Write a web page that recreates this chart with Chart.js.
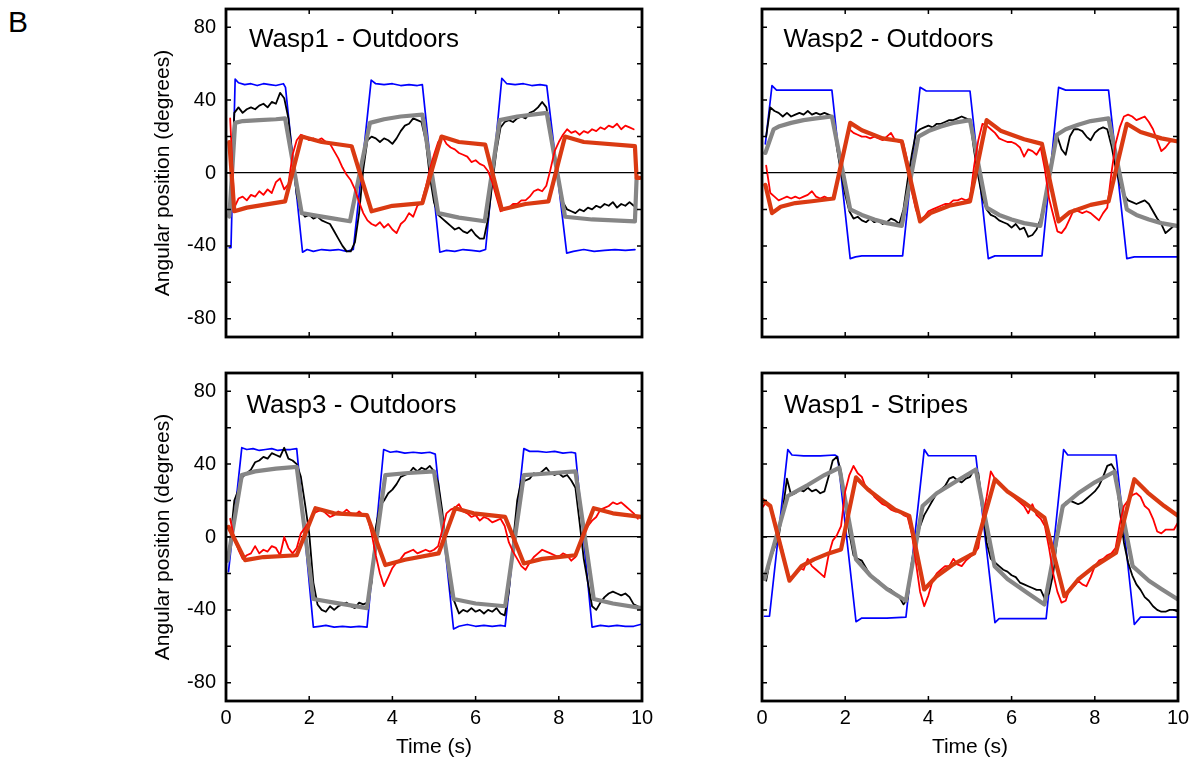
<!DOCTYPE html>
<html>
<head>
<meta charset="utf-8">
<script src="https://cdn.jsdelivr.net/npm/chart.js@4.4.0/dist/chart.umd.min.js"></script>
<style>
  body{margin:0;background:#fff;width:1195px;height:762px;position:relative;overflow:hidden;font-family:"Liberation Sans",Arial,sans-serif}
  canvas{position:absolute}
  #lblB{position:absolute;left:8px;top:7px;font-size:30px;line-height:30px;color:#000}
</style>
</head>
<body>
<div id="lblB">B</div>
<canvas id="c1" width="540" height="350" style="left:120px;top:0px"></canvas>
<canvas id="c2" width="495" height="350" style="left:700px;top:0px"></canvas>
<canvas id="c3" width="540" height="402" style="left:120px;top:360px"></canvas>
<canvas id="c4" width="495" height="402" style="left:700px;top:360px"></canvas>
<script>
// axis ticks
const xLabelTicks = [0, 2, 4, 6, 8, 10];
const yLabelTicks = [-80, -40, 0, 40, 80];
const xMinorTicks = [2, 4, 6, 8];
const yMinorTicks = [-80, -60, -40, -20, 0, 20, 40, 60, 80];

// ---- Wasp1 - Outdoors ----
// stimulus and fits as [time, deg] breakpoints, noisy traces sampled every 0.1 s
const w1Blue = [[0.08,-41],[0.12,-41],[0.22,51.5],[0.3,49.5],[0.45,48.5],[0.6,49],[0.75,48],[0.9,49],[1.05,48.5],[1.2,48],[1.38,49],[1.43,47],[1.84,-43.5],[1.95,-42],[2.1,-43],[2.3,-42],[2.5,-42.5],[2.7,-42],[2.9,-43],[3.06,-42],[3.49,51],[3.6,49],[3.8,48.5],[4.0,49],[4.2,48],[4.4,48.5],[4.6,48],[4.72,48.5],[5.14,-43.5],[5.3,-42.5],[5.5,-43],[5.7,-42],[5.9,-42.5],[6.1,-43],[6.24,-42],[6.63,52],[6.75,49],[6.95,48.5],[7.15,49],[7.35,48],[7.55,48.5],[7.71,48],[8.19,-44],[8.35,-43],[8.6,-42],[8.85,-43],[9.1,-42.5],[9.35,-42],[9.6,-42.5],[9.83,-42]];
const w1Gray = [[0.08,-24],[0.22,27.5],[0.4,28.5],[0.8,29],[1.2,29.5],[1.42,30],[1.82,-22],[2.2,-23.5],[2.6,-25],[2.98,-26.5],[3.46,27.5],[3.8,29.5],[4.2,31],[4.72,32],[5.1,-22],[5.6,-24.5],[6.22,-26.5],[6.58,29],[7.0,31],[7.71,33],[8.15,-24],[8.8,-25.5],[9.83,-26.5],[9.87,-3]];
const w1RedFit = [[0.08,17],[0.2,-21],[0.5,-19],[0.9,-17.5],[1.42,-15.6],[1.82,20],[2.3,17],[3.02,14.7],[3.5,-21],[4.0,-18],[4.72,-16.5],[5.18,20],[5.6,17],[6.23,15.6],[6.63,-20],[7.2,-17],[7.75,-15.6],[8.15,20],[8.6,17],[9.83,14.7],[9.87,-2.7],[9.95,-2.7]];
const w1Black = [-15,33,36,33,35,36,35,37,38,36, 39,38,44,41,30,8,-12,-21,-24,-23, -25,-24,-26,-27,-28,-32,-36,-40,-43,-43, -38,-22,2,18,20,19,17,19,18,16, 19,23,26,27,30,29,28,18,-2,-16, -23,-25,-27,-29,-31,-30,-32,-33,-31,-34, -36,-36,-25,-6,12,25,28,29,28,30, 31,30,33,34,36,39,36,24,8,-4, -16,-20,-21,-22,-20,-21,-19,-20,-18,-19, -17,-18,-16,-19,-17,-18,-16,-18];
const w1Red = [30,-19,-14,-13,-15,-12,-13,-10,-12,-9, -11,-5,-3,-9,-6,10,18,21,20,18, 19,18,19,17,16,12,8,3,-1,-4, -9,-16,-22,-26,-28,-29,-27,-30,-28,-31, -33,-28,-26,-22,-24,-18,-16,-8,2,10, 17,20,16,14,13,11,10,9,6,7, 5,4,1,-5,-13,-21,-20,-19,-17,-17, -15,-15,-13,-10,-9,-10,-7,2,12,17, 21,24,22,23,21,23,22,24,23,25, 24,26,25,27,24,26,25,24];

// ---- Wasp2 - Outdoors ----
const w2Blue = [[0.08,16],[0.24,48],[0.35,45.5],[1.68,45.5],[2.12,-47],[2.25,-46],[2.4,-45.5],[3.38,-45.5],[3.8,47],[3.95,45],[5.0,45],[5.44,-47],[5.6,-45.5],[6.73,-45.5],[7.13,47],[7.3,45.5],[8.33,45.5],[8.77,-47],[8.95,-46],[9.97,-46]];
const w2Gray = [[0.08,11],[0.28,24],[0.4,25.5],[0.7,27.5],[1.0,29],[1.3,30],[1.68,31],[2.12,-20],[2.4,-23],[2.7,-25.5],[3.0,-27.5],[3.36,-29],[3.76,20],[4.0,23],[4.3,25.5],[4.6,27.5],[5.0,29],[5.4,-19],[5.7,-23],[6.0,-25.5],[6.3,-27.5],[6.69,-29],[7.09,21],[7.3,24],[7.6,26.5],[7.9,28.5],[8.33,30],[8.77,-20],[9.0,-23],[9.3,-25.5],[9.6,-27.5],[9.97,-29]];
const w2RedFit = [[0.08,-6.5],[0.24,-22],[0.45,-18.5],[0.8,-16.5],[1.2,-15.5],[1.72,-14],[2.12,27.5],[2.4,23.5],[2.9,19],[3.36,17.4],[3.8,-26.6],[4.05,-22],[4.5,-18],[5.0,-15.6],[5.4,29],[5.75,23],[6.3,18.5],[6.73,16],[7.13,-26.6],[7.4,-21.5],[7.9,-17.5],[8.33,-15.6],[8.77,27],[9.1,22.5],[9.6,19],[9.97,17.4]];
const w2Black = [20,36,34,33,31,33,31,32,33,32, 34,32,33,32,33,32,31,14,0,-12, -21,-25,-24,-26,-27,-25,-27,-26,-28,-27, -25,-26,-28,-20,-4,10,22,24,25,26, 25,27,27,28,29,29,30,31,30,29, 12,-2,-14,-20,-23,-24,-26,-27,-28,-30, -28,-31,-30,-35,-34,-31,-25,-15,0,12, 20,13,10,20,24,24,23,20,18,22, 24,25,24,15,3,-6,-12,-15,-16,-17, -16,-15,-17,-21,-25,-28,-33,-31,-29];
const w2Red = [4,-11,-13,-15,-14,-13,-14,-13,-14,-13, -12,-10,-13,-14,-13,-14,-14,-5,6,16, 24,22,21,20,20,19,20,19,18,20, 22,18,17,16,6,-10,-20,-26,-24,-21, -20,-19,-18,-17,-17,-15,-15,-14,-15,-14, 4,18,27,26,24,22,19,18,17,17, 16,14,9,13,12,10,14,2,-14,-23, -32,-33,-30,-25,-20,-21,-22,-21,-22,-24, -26,-22,-19,0,16,25,31,32,31,29, 30,31,28,24,18,12,14,17,18];

// ---- Wasp3 - Outdoors ----
const w3Blue = [[0.06,-19],[0.38,49],[0.5,48],[0.65,48.5],[0.8,47.5],[0.95,48],[1.1,48.5],[1.25,47.5],[1.4,48],[1.55,48],[1.7,48.5],[2.1,-49.5],[2.25,-49],[2.4,-48.5],[2.6,-49.5],[2.8,-49],[3.0,-49.5],[3.2,-49],[3.39,-49.5],[3.79,48],[3.95,46.5],[4.1,47],[4.3,46],[4.5,46.5],[4.7,46],[4.9,46.5],[5.03,45.5],[5.47,-50.5],[5.6,-49],[5.8,-48],[6.0,-49],[6.2,-48.5],[6.4,-49],[6.6,-48.5],[6.71,-49],[7.16,48.5],[7.3,47],[7.5,47],[7.7,46.5],[7.9,47],[8.1,46],[8.3,46.5],[8.4,46],[8.8,-49.5],[9.0,-48.5],[9.2,-49],[9.4,-48.5],[9.6,-49],[9.8,-49],[9.96,-48]];
const w3Gray = [[0.04,-13],[0.38,34],[0.7,36],[1.2,37.5],[1.7,38.5],[2.1,-34],[2.6,-36],[3.0,-37.5],[3.39,-39],[3.83,34],[4.3,35],[5.0,36],[5.47,-34],[6.0,-36.5],[6.71,-38],[7.16,34],[7.8,35],[8.4,36],[8.84,-34],[9.3,-36.5],[10,-39]];
const w3RedFit = [[0.06,5.5],[0.46,-12.7],[0.9,-11],[1.7,-10],[2.15,15.8],[2.6,13],[3.39,12],[3.83,-15.4],[4.3,-12.5],[5.11,-9],[5.51,15.8],[5.95,13],[6.71,11],[7.16,-14.5],[7.6,-12],[8.4,-10],[8.84,15.8],[9.3,13],[9.98,11]];
const w3Black = [-3,20,26,33,35,37,41,42,44,43, 46,45,44,49,43,42,40,33,18,2, -25,-37,-40,-41,-38,-40,-38,-37,-36,-38, -39,-36,-37,-36,-25,5,17,20,24,26, 29,33,34,35,38,36,38,37,39,36, 30,14,-8,-30,-36,-42,-40,-41,-39,-41, -40,-42,-40,-41,-39,-42,-43,-30,-3,20, 31,31,32,35,34,36,38,35,34,35, 33,34,31,27,8,-12,-25,-38,-40,-36, -33,-31,-30,-31,-32,-31,-33,-37,-38];
const w3Red = [10,-1,-7,-12,-10,-9,-5,-9,-7,-8, -5,-6,-10,0,-6,-9,-6,2,5,9, 13,14,15,13,11,12,14,13,15,13, 12,14,12,11,2,-10,-20,-27,-22,-17, -14,-12,-9,-8,-7,-9,-8,-7,-8,-7, -5,4,13,15,16,18,14,13,11,12, 9,11,10,8,9,10,6,-3,-8,-12, -16,-18,-14,-11,-9,-7,-8,-9,-10,-11, -9,-10,-13,-11,-4,2,6,9,11,15, 16,17,19,18,19,17,15,13,10];

// ---- Wasp1 - Stripes ----
const w4Blue = [[0.06,-43.5],[0.18,-43.5],[0.62,48],[0.72,45],[1.0,44.5],[1.4,44.5],[1.75,45],[1.82,44],[2.26,-46.5],[2.4,-44.5],[3.0,-44.5],[3.46,-44],[3.9,48],[4.0,44.6],[4.5,44.6],[5.14,44.6],[5.6,-47],[5.7,-44.8],[6.83,-44.8],[7.25,48],[7.35,45],[8.51,45],[8.95,-48],[9.1,-44],[10,-44]];
const w4Gray = [[0.06,-23],[0.62,22.5],[0.9,26],[1.1,28.5],[1.5,34],[1.86,38],[2.26,-12.3],[2.6,-21],[3.0,-28.5],[3.46,-35],[3.86,17],[4.2,24],[4.7,31],[5.14,37],[5.59,-16],[5.9,-23],[6.4,-31],[6.79,-37],[7.23,17],[7.6,24],[8.0,30],[8.47,35.8],[8.91,-16],[9.3,-24],[9.6,-28.5],[10,-34.3]];
const w4RedFit = [[0,20.5],[0.2,17],[0.66,-24],[0.95,-16],[1.25,-12.3],[1.6,-9],[1.9,-6.8],[2.26,32.7],[2.55,26],[2.85,20.7],[3.2,15],[3.54,11.6],[3.9,-28.8],[4.2,-21.5],[4.6,-15],[5.0,-10],[5.1,-9],[5.6,31.7],[5.9,25],[6.3,18.9],[6.79,10.6],[7.27,-32.5],[7.6,-23.3],[8.0,-16],[8.51,-8.6],[8.95,31.7],[9.27,24.4],[9.67,17],[10,11.6]];
const w4Black = [-24,-12,-6,0,15,32,23,24,26,25, 27,25,26,24,25,33,42,44,36,18, 2,-10,-12,-13,-17,-21,-23,-24,-27,-28, -29,-31,-33,-37,-34,-14,-2,6,12,16, 20,24,26,28,32,33,31,30,32,33, 37,35,17,-3,-12,-14,-16,-18,-19,-21, -22,-25,-26,-27,-28,-29,-29,-34,-31,-20, 0,14,19,20,19,18,19,21,23,25, 28,33,39,40,36,15,-3,-14,-21,-26, -29,-33,-35,-38,-40,-41,-41,-40,-40,-41];
const w4Red = [16,19,17,10,0,-8,-20,-23,-20,-17, -18,-12,-16,-18,-20,-22,-10,-2,1,6, 25,34,39,35,33,27,26,22,20,18, 17,15,14,14,12,11,2,-14,-30,-38, -32,-24,-20,-18,-16,-16,-12,-15,-16,-13, -11,-9,-6,10,22,36,32,30,27,25, 23,21,19,17,13,18,12,10,6,-6, -20,-30,-36,-35,-28,-27,-24,-26,-27,-22, -16,-13,-12,-10,-9,-6,7,17,20,23, 24,22,17,15,10,3,2,4,4,4, 8];

// Helpers
const pairs = arr => arr.map(p => ({x: p[0], y: p[1]}));
const sampled = (vals, t0) => vals.map((v, i) => ({x: Math.round((t0 + i * 0.1) * 100) / 100, y: v}));

const FONT = '"Liberation Sans", Arial, sans-serif';

// frame, inward ticks and panel label
const panelDeco = {
  id: 'panelDeco',
  afterDraw(chart, args, opts){
    const {ctx, chartArea: a, scales} = chart;
    ctx.save();
    ctx.strokeStyle = '#000';
    ctx.lineWidth = 1.5;
    ctx.beginPath();
    yMinorTicks.forEach(v => {
      const y = scales.y.getPixelForValue(v);
      ctx.moveTo(a.left, y); ctx.lineTo(a.left + 5, y);
      ctx.moveTo(a.right, y); ctx.lineTo(a.right - 5, y);
    });
    xMinorTicks.forEach(v => {
      const x = scales.x.getPixelForValue(v);
      ctx.moveTo(x, a.top); ctx.lineTo(x, a.top + 5);
      ctx.moveTo(x, a.bottom); ctx.lineTo(x, a.bottom - 5);
    });
    ctx.stroke();
    ctx.lineWidth = 2.8;
    ctx.strokeRect(a.left, a.top, a.right - a.left, a.bottom - a.top);
    ctx.fillStyle = '#000';
    ctx.font = '26px ' + FONT;
    ctx.textBaseline = 'alphabetic';
    ctx.fillText(opts.text, a.left + opts.dx, a.top + opts.dy);
    ctx.restore();
  }
};

const panels = [
  {id:'c1', title:'Wasp1 - Outdoors', blue:w1Blue, gray:w1Gray, redFit:w1RedFit, black:w1Black, blackT0:0.1, red:w1Red, redT0:0.1,
   showY:true, showX:false, yw:106, pad:{left:0, top:9, right:18, bottom:13}, xh:0, dx:23, dy:37.5},
  {id:'c2', title:'Wasp2 - Outdoors', blue:w2Blue, gray:w2Gray, redFit:w2RedFit, black:w2Black, blackT0:0.1, red:w2Red, redT0:0.1,
   showY:false, showX:false, yw:62, pad:{left:0, top:9, right:17, bottom:13}, xh:0, dx:21.5, dy:37.5},
  {id:'c3', title:'Wasp3 - Outdoors', blue:w3Blue, gray:w3Gray, redFit:w3RedFit, black:w3Black, blackT0:0.1, red:w3Red, redT0:0.1,
   showY:true, showX:true, yw:106, pad:{left:0, top:13, right:18, bottom:0}, xh:61, dx:20.5, dy:40},
  {id:'c4', title:'Wasp1 - Stripes', blue:w4Blue, gray:w4Gray, redFit:w4RedFit, black:w4Black, blackT0:0.1, red:w4Red, redT0:0.0,
   showY:false, showX:true, yw:62, pad:{left:0, top:13, right:17, bottom:0}, xh:61, dx:22, dy:40}
];

function makePanel(p){
  const line = (data, color, width) => ({data, borderColor: color, borderWidth: width, pointRadius: 0, fill: false});
  new Chart(document.getElementById(p.id), {
    type: 'line',
    data: {
      // first dataset is drawn on top
      datasets: [
        line(pairs(p.redFit), '#da3a12', 4.2),
        line(sampled(p.red, p.redT0), '#ff0000', 1.8),
        line(pairs(p.gray), '#868686', 4.2),
        line(sampled(p.black, p.blackT0), '#000000', 1.8),
        line(pairs(p.blue), '#0000ff', 1.7)
      ]
    },
    options: {
      responsive: false,
      animation: false,
      devicePixelRatio: 1,
      events: [],
      layout: {padding: p.pad},
      elements: {line: {tension: 0, borderJoinStyle: 'round', borderCapStyle: 'round'}},
      plugins: {
        legend: {display: false},
        tooltip: {enabled: false},
        panelDeco: {text: p.title, dx: p.dx, dy: p.dy}
      },
      scales: {
        x: {
          type: 'linear', min: 0, max: 10,
          afterBuildTicks: s => { s.ticks = xLabelTicks.map(v => ({value: v})); },
          afterFit: s => { s.height = p.xh; s.paddingLeft = 0; s.paddingRight = 0; },
          grid: {display: false, drawTicks: false},
          border: {display: false},
          ticks: {display: p.showX, padding: 5, maxRotation: 0, autoSkip: false, color: '#000', font: {family: FONT, size: 20}},
          title: {display: p.showX, text: 'Time (s)', color: '#000', padding: {top: 2, bottom: 2}, font: {family: FONT, size: 21}}
        },
        y: {
          type: 'linear', min: -90, max: 90,
          afterBuildTicks: s => { s.ticks = yLabelTicks.map(v => ({value: v})); },
          afterFit: s => { s.width = p.yw; s.paddingTop = 0; s.paddingBottom = 0; },
          grid: {drawTicks: false, lineWidth: 1.3, color: c => (c.tick && c.tick.value === 0) ? '#000' : 'rgba(0,0,0,0)'},
          border: {display: false},
          ticks: {display: p.showY, padding: 10, color: '#000', font: {family: FONT, size: 20}},
          title: {display: p.showY, text: 'Angular position (degrees)', color: '#000', padding: {top: 31, bottom: 31}, font: {family: FONT, size: 21}}
        }
      }
    },
    plugins: [panelDeco]
  });
}

panels.forEach(makePanel);
</script>
</body>
</html>
